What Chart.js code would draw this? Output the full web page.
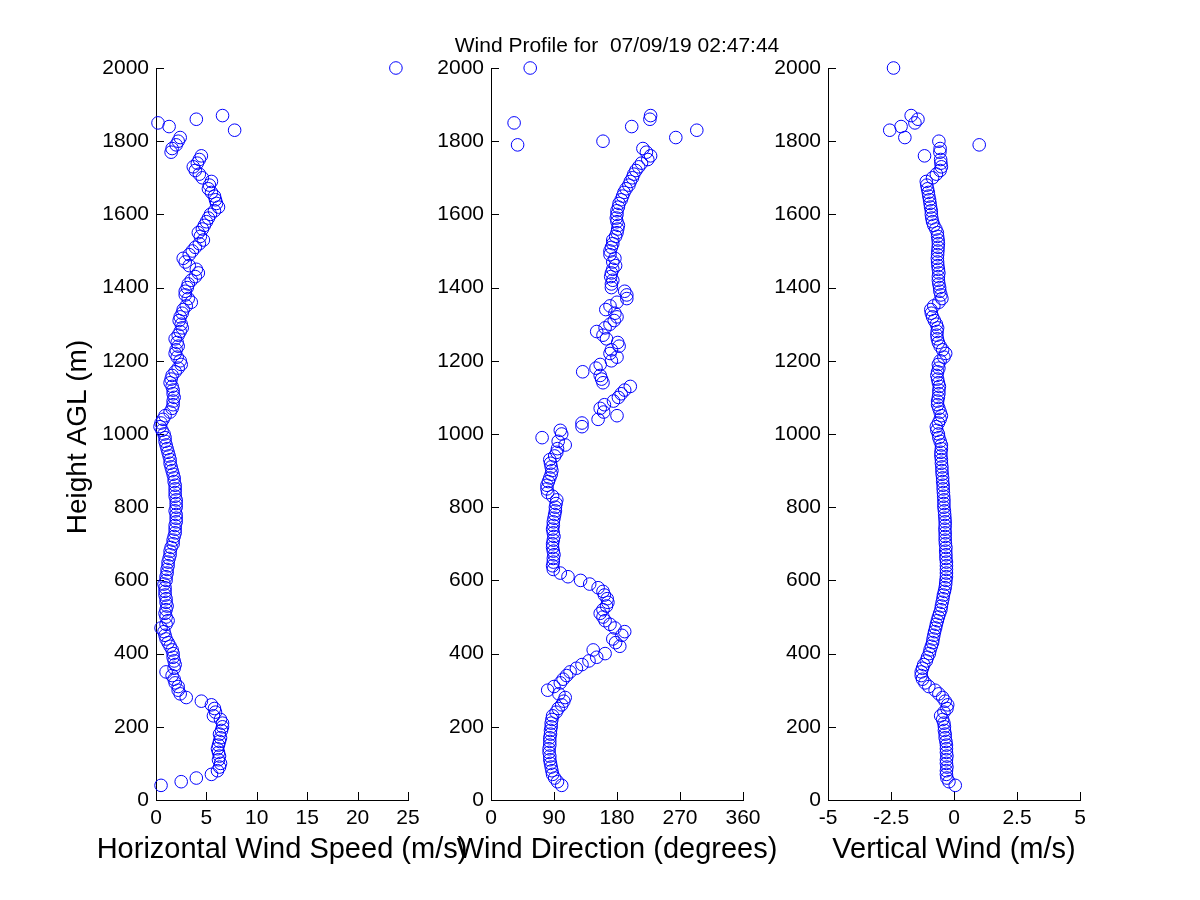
<!DOCTYPE html>
<html>
<head>
<meta charset="utf-8">
<title>Wind Profile</title>
<script src="https://cdn.jsdelivr.net/npm/chart.js@4.4.1/dist/chart.umd.min.js"></script>
<style>
  body { margin: 0; background: #fff; }
  #wrap { position: relative; width: 1200px; height: 900px; }
  #wrap canvas { position: absolute; left: 0; top: 0; }
</style>
</head>
<body>
<div id="wrap">
  <canvas id="speedChart" width="1200" height="900"></canvas>
  <canvas id="dirChart" width="1200" height="900"></canvas>
  <canvas id="vertChart" width="1200" height="900"></canvas>
</div>
<script>
// heights above ground (m), one sample every 10 m, 1820 m missing
const heights = [
  40, 50, 60, 70, 80, 90, 100, 110, 120, 130,
  140, 150, 160, 170, 180, 190, 200, 210, 220, 230,
  240, 250, 260, 270, 280, 290, 300, 310, 320, 330,
  340, 350, 360, 370, 380, 390, 400, 410, 420, 430,
  440, 450, 460, 470, 480, 490, 500, 510, 520, 530,
  540, 550, 560, 570, 580, 590, 600, 610, 620, 630,
  640, 650, 660, 670, 680, 690, 700, 710, 720, 730,
  740, 750, 760, 770, 780, 790, 800, 810, 820, 830,
  840, 850, 860, 870, 880, 890, 900, 910, 920, 930,
  940, 950, 960, 970, 980, 990, 1000, 1010, 1020, 1030,
  1040, 1050, 1060, 1070, 1080, 1090, 1100, 1110, 1120, 1130,
  1140, 1150, 1160, 1170, 1180, 1190, 1200, 1210, 1220, 1230,
  1240, 1250, 1260, 1270, 1280, 1290, 1300, 1310, 1320, 1330,
  1340, 1350, 1360, 1370, 1380, 1390, 1400, 1410, 1420, 1430,
  1440, 1450, 1460, 1470, 1480, 1490, 1500, 1510, 1520, 1530,
  1540, 1550, 1560, 1570, 1580, 1590, 1600, 1610, 1620, 1630,
  1640, 1650, 1660, 1670, 1680, 1690, 1700, 1710, 1720, 1730,
  1740, 1750, 1760, 1770, 1780, 1790, 1800, 1810,
  1830, 1840, 1850, 1860, 1870,
  2000
];

// horizontal wind speed (m/s)
const windSpeed = [
  0.5, 2.5, 4.0, 5.5, 6.1, 6.3, 6.4, 6.2, 6.3, 6.2,
  6.1, 6.2, 6.3, 6.4, 6.3, 6.5, 6.6, 6.6, 6.4, 5.7,
  5.9, 5.8, 5.5, 4.5, 3.0, 2.4, 2.2, 2.2, 1.9, 1.8,
  1.6, 1.0, 1.8, 1.9, 1.8, 1.7, 1.7, 1.6, 1.4, 1.2,
  1.0, 0.9, 0.8, 0.5, 1.0, 1.2, 1.0, 0.9, 1.0, 1.1,
  1.0, 1.0, 0.9, 0.9, 0.9, 0.8, 1.0, 1.0, 1.1, 1.1,
  1.2, 1.2, 1.3, 1.4, 1.4, 1.5, 1.7, 1.7, 1.8, 1.9,
  1.9, 1.9, 2.0, 2.0, 2.0, 1.9, 2.0, 2.0, 2.0, 1.9,
  1.9, 1.9, 1.9, 1.8, 1.8, 1.7, 1.6, 1.5, 1.4, 1.4,
  1.3, 1.2, 1.1, 1.0, 0.9, 0.9, 0.8, 0.6, 0.4, 0.5,
  0.7, 0.9, 1.4, 1.6, 1.7, 1.7, 1.8, 1.7, 1.7, 1.6,
  1.4, 1.5, 1.6, 1.9, 2.2, 2.5, 2.4, 2.1, 1.9, 2.0,
  2.2, 2.1, 1.9, 2.2, 2.4, 2.6, 2.5, 2.3, 2.4, 2.6,
  2.7, 3.0, 3.5, 3.2, 2.9, 2.9, 3.1, 3.2, 3.5, 3.9,
  4.2, 4.0, 3.3, 2.9, 2.7, 3.3, 3.6, 3.9, 4.3, 4.7,
  4.4, 4.2, 4.6, 4.8, 5.0, 5.2, 5.4, 5.8, 6.2, 6.0,
  5.9, 5.8, 5.5, 5.2, 5.3, 5.5, 4.6, 4.3, 3.9, 3.7,
  4.1, 4.3, 4.5, 1.5, 1.6, 2.0, 2.2, 2.4,
  7.8, 1.3, 0.2, 4.0, 6.6,
  23.8
];

// wind direction (degrees)
const windDir = [
  101, 95, 91, 88, 87, 86, 85, 84, 84, 83,
  83, 84, 84, 84, 85, 85, 86, 86, 87, 88,
  93, 96, 101, 104, 106, 97, 81, 90, 99, 103,
  108, 113, 122, 130, 140, 151, 163, 146, 184, 178,
  174, 187, 191, 177, 170, 163, 160, 156, 160, 165,
  167, 166, 162, 160, 153, 141, 128, 110, 99, 89,
  88, 89, 89, 90, 89, 88, 88, 89, 90, 89,
  88, 89, 89, 90, 91, 92, 92, 93, 94, 88,
  81, 80, 80, 82, 84, 86, 87, 86, 85, 84,
  91, 94, 95, 106, 96, 73, 101, 99, 130, 130,
  153, 180, 161, 156, 162, 175, 182, 186, 191, 199,
  160, 158, 156, 131, 150, 156, 172, 180, 170, 172,
  183, 181, 165, 160, 151, 163, 170, 176, 180, 177,
  164, 170, 180, 194, 194, 191, 172, 172, 174, 171,
  172, 174, 178, 174, 177, 170, 170, 172, 174, 174,
  178, 180, 181, 182, 180, 179, 180, 180, 182, 183,
  186, 188, 190, 193, 197, 199, 202, 204, 207, 211,
  215, 224, 228, 222, 217, 38, 160, 264,
  294, 201, 33, 227, 228,
  56
];

// vertical wind (m/s)
const vertWind = [
  0.05, -0.2, -0.28, -0.3, -0.3, -0.28, -0.3, -0.3, -0.28, -0.3,
  -0.3, -0.3, -0.32, -0.35, -0.35, -0.38, -0.38, -0.4, -0.45, -0.53,
  -0.4, -0.28, -0.25, -0.35, -0.45, -0.6, -0.75, -1.0, -1.15, -1.25,
  -1.3, -1.3, -1.25, -1.2, -1.1, -1.05, -0.98, -0.95, -0.9, -0.85,
  -0.83, -0.8, -0.77, -0.73, -0.7, -0.66, -0.62, -0.57, -0.52, -0.5,
  -0.47, -0.44, -0.42, -0.38, -0.35, -0.33, -0.32, -0.3, -0.3, -0.3,
  -0.3, -0.3, -0.32, -0.32, -0.33, -0.32, -0.34, -0.35, -0.35, -0.35,
  -0.36, -0.35, -0.35, -0.36, -0.37, -0.38, -0.4, -0.4, -0.4, -0.41,
  -0.42, -0.43, -0.43, -0.45, -0.45, -0.47, -0.48, -0.48, -0.5, -0.5,
  -0.52, -0.52, -0.5, -0.5, -0.55, -0.6, -0.62, -0.68, -0.7, -0.62,
  -0.55, -0.5, -0.55, -0.6, -0.65, -0.65, -0.62, -0.6, -0.6, -0.58,
  -0.62, -0.65, -0.68, -0.65, -0.6, -0.62, -0.55, -0.4, -0.33, -0.45,
  -0.55, -0.62, -0.66, -0.68, -0.67, -0.65, -0.7, -0.78, -0.85, -0.9,
  -0.92, -0.8, -0.6, -0.48, -0.52, -0.56, -0.57, -0.6, -0.62, -0.62,
  -0.6, -0.62, -0.64, -0.65, -0.66, -0.65, -0.64, -0.63, -0.62, -0.63,
  -0.65, -0.66, -0.72, -0.8, -0.85, -0.88, -0.9, -0.9, -0.93, -0.95,
  -0.97, -1.0, -1.02, -1.05, -1.08, -1.1, -0.85, -0.7, -0.55, -0.5,
  -0.52, -0.53, -1.17, -0.56, -0.55, 1.0, -0.6, -1.95,
  -2.55, -2.1, -1.55, -1.43, -1.7,
  -2.4
];

const heightTicks = [0, 200, 400, 600, 800, 1000, 1200, 1400, 1600, 1800, 2000];
const speedTicks = [0, 5, 10, 15, 20, 25];
const dirTicks = [0, 90, 180, 270, 360];
const vertTicks = [-5, -2.5, 0, 2.5, 5];

const FONT = "'Liberation Sans', Arial, sans-serif";
Chart.defaults.font.family = FONT;
Chart.defaults.color = '#000';

// MATLAB style axes: left and bottom lines with inward ticks, plus the titles
const matlabAxes = {
    id: 'matlabAxes',
    beforeDatasetsDraw(chart) {
        const ctx = chart.ctx;
        const a = chart.chartArea;
        const x = chart.scales.x, y = chart.scales.y;
        ctx.save();
        ctx.strokeStyle = '#000';
        ctx.lineWidth = 1;
        ctx.beginPath();
        ctx.moveTo(Math.round(a.left) + 0.5, Math.round(a.top));
        ctx.lineTo(Math.round(a.left) + 0.5, Math.round(a.bottom) + 0.5);
        ctx.lineTo(Math.round(a.right) + 1, Math.round(a.bottom) + 0.5);
        y.ticks.forEach(t => {
            const py = Math.round(y.getPixelForValue(t.value)) + 0.5;
            ctx.moveTo(a.left, py);
            ctx.lineTo(a.left + 8, py);
        });
        x.ticks.forEach(t => {
            const px = Math.round(x.getPixelForValue(t.value)) + 0.5;
            ctx.moveTo(px, a.bottom);
            ctx.lineTo(px, a.bottom - 8);
        });
        ctx.stroke();
        ctx.restore();
    },
    afterDraw(chart, args, opts) {
        const ctx = chart.ctx;
        const a = chart.chartArea;
        const cx = (a.left + a.right) / 2;
        ctx.save();
        ctx.fillStyle = '#000';
        ctx.textBaseline = 'alphabetic';
        ctx.textAlign = 'center';
        if (opts.xTitle) {
            ctx.font = '29px ' + FONT;
            ctx.fillText(opts.xTitle, cx, 858);
        }
        if (opts.title) {
            ctx.font = '21px ' + FONT;
            ctx.fillText(opts.title, cx, 52);
        }
        if (opts.yTitle) {
            ctx.font = '28px ' + FONT;
            ctx.translate(86, (a.top + a.bottom) / 2 + 3);
            ctx.rotate(-Math.PI / 2);
            ctx.fillText(opts.yTitle, 0, 0);
        }
        ctx.restore();
    }
};

function makePoints(values) {
    return heights.map((h, i) => ({x: values[i], y: h}));
}

function profileChart(id, values, xTicks, left, right, texts) {
    return new Chart(document.getElementById(id), {
        type: 'scatter',
        data: {
            datasets: [{
                data: makePoints(values),
                borderColor: '#0000ff',
                backgroundColor: 'rgba(0,0,0,0)',
                borderWidth: 1,
                pointRadius: 6.3,
                pointHoverRadius: 6.3,
                clip: false
            }]
        },
        options: {
            responsive: false,
            animation: false,
            events: [],
            layout: {
                padding: {left: 0, right: 1200 - right, top: 68, bottom: 0}
            },
            scales: {
                x: {
                    type: 'linear',
                    min: xTicks[0],
                    max: xTicks[xTicks.length - 1],
                    afterBuildTicks: function (scale) {
                        scale.ticks = xTicks.map(v => ({value: v}));
                    },
                    afterFit: function (scale) {
                        scale.height = 100;
                    },
                    grid: {display: false, drawTicks: false},
                    border: {display: false},
                    ticks: {
                        font: {size: 21},
                        padding: 6,
                        maxRotation: 0,
                        autoSkip: false,
                        callback: v => String(v)
                    }
                },
                y: {
                    type: 'linear',
                    min: 0,
                    max: 2000,
                    afterBuildTicks: function (scale) {
                        scale.ticks = heightTicks.map(v => ({value: v}));
                    },
                    afterFit: function (scale) {
                        scale.width = left;
                    },
                    grid: {display: false, drawTicks: false},
                    border: {display: false},
                    ticks: {
                        font: {size: 21},
                        padding: 7,
                        autoSkip: false,
                        callback: v => String(v)
                    }
                }
            },
            plugins: {
                legend: {display: false},
                tooltip: {enabled: false},
                matlabAxes: texts
            }
        },
        plugins: [matlabAxes]
    });
}

profileChart('speedChart', windSpeed, speedTicks, 156, 408,
    {xTitle: 'Horizontal Wind Speed (m/s)', yTitle: 'Height AGL (m)'});
profileChart('dirChart', windDir, dirTicks, 491, 743,
    {xTitle: 'Wind Direction (degrees)', title: 'Wind Profile for  07/09/19 02:47:44'});
profileChart('vertChart', vertWind, vertTicks, 828, 1080,
    {xTitle: 'Vertical Wind (m/s)'});
</script>
</body>
</html>
